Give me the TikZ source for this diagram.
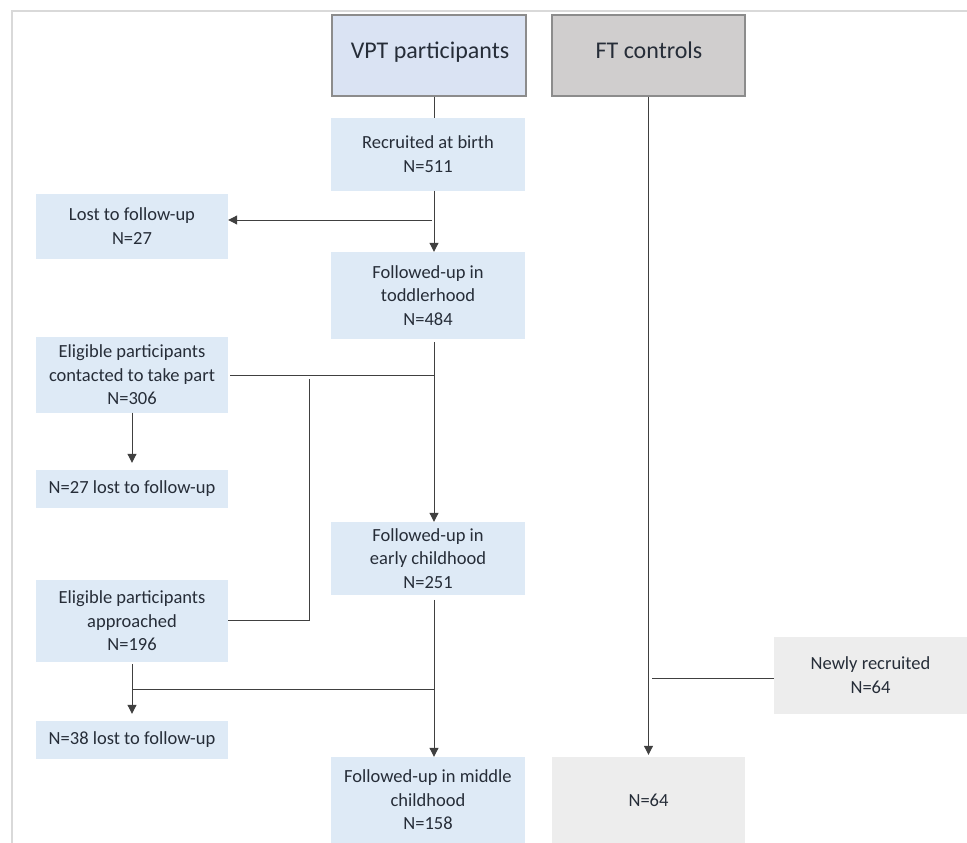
\documentclass[tikz,border=0pt]{standalone}
\usepackage{fontspec}
\setmainfont{Carlito}
\usetikzlibrary{arrows.meta}
\definecolor{txt}{RGB}{38,45,56}
\definecolor{blueb}{RGB}{222,234,246}
\definecolor{bluehd}{RGB}{218,227,243}
\definecolor{grayhd}{RGB}{208,206,206}
\definecolor{grayb}{RGB}{237,237,237}
\definecolor{hdline}{RGB}{140,140,140}
\definecolor{conn}{RGB}{64,64,64}
\definecolor{frame}{RGB}{217,217,217}
\tikzset{
  base/.style={rectangle, inner sep=0pt, align=center, text=txt,
    font=\fontsize{18.5}{23.5}\selectfont},
  bbox/.style={base, fill=blueb},
  gbox/.style={base, fill=grayb},
  hdbox/.style={rectangle, inner sep=0pt, align=center, text=txt, draw=hdline, line width=1.5pt,
    font=\fontsize{24}{28}\selectfont},
  conline/.style={draw=conn, line width=1pt},
  arr/.style={conline, -{Triangle[width=9pt,length=9pt]}},
}
\begin{document}
\begin{tikzpicture}[x=1pt,y=-1pt]
\useasboundingbox (0,0) rectangle (967,843);
\fill[white] (0,0) rectangle (967,843);
% frame
\draw[frame, line width=2pt] (967,11) -- (12,11) -- (12,843);
% headers
\node[hdbox, fill=bluehd, minimum width=194pt, minimum height=81pt] (vpt) at (429,55.5) {};
\node[text=txt, font=\fontsize{24}{28}\selectfont, anchor=base] (vptt) at (430,59) {VPT participants};
\node[hdbox, fill=grayhd, minimum width=193pt, minimum height=81pt] (ft) at (648.5,55.5) {};
\node[text=txt, font=\fontsize{24}{28}\selectfont, anchor=base] (ftt) at (649,59) {FT controls};
% VPT column
\node[bbox, minimum width=194pt, minimum height=72.5pt] (rec) at (428,154.25) {Recruited at birth\\N=511};
\node[bbox, minimum width=194pt, minimum height=87pt] (tod) at (428,295.5) {Followed-up in\\toddlerhood\\N=484};
\node[bbox, minimum width=194pt, minimum height=72.7pt] (early) at (428,558.35) {Followed-up in\\early childhood\\N=251};
\node[bbox, minimum width=194pt, minimum height=86pt] (mid) at (428,800) {Followed-up in middle\\childhood\\N=158};
% left column
\node[bbox, minimum width=192pt, minimum height=64.5pt] (lost1) at (132,226.25) {Lost to follow-up\\N=27};
\node[bbox, minimum width=192pt, minimum height=75.5pt] (cont) at (132,374.75) {Eligible participants\\contacted to take part\\N=306};
\node[bbox, minimum width=192pt, minimum height=37.7pt] (lost27) at (132,488.85) {N=27 lost to follow-up};
\node[bbox, minimum width=192pt, minimum height=81.7pt] (appr) at (132,620.85) {Eligible participants\\approached\\N=196};
\node[bbox, minimum width=192pt, minimum height=37.7pt] (lost38) at (132,739.85) {N=38 lost to follow-up};
% FT column
\node[gbox, minimum width=193pt, minimum height=76.7pt] (newr) at (870.5,675.35) {Newly recruited\\N=64};
\node[gbox, minimum width=193pt, minimum height=86pt] (ftn) at (648.5,800) {N=64};
% connector helpers
\coordinate (vx) at (434,0);
\coordinate (j1) at (432,220);
\coordinate (j2) at (434,375);
\coordinate (j3) at (309,379);
\coordinate (j4) at (434,689);
\coordinate (j5) at (652,678.7);
% connectors
\draw[conline] (vpt.south -| vx) -- (rec.north -| vx);
\draw[arr] (rec.south -| vx) -- (tod.north -| vx);
\draw[arr] (j1) -- (j1 -| lost1.east);
\draw[arr] ([yshift=-3pt]tod.south -| vx) -- (early.north -| vx);
\draw[conline] (j2) -- ([xshift=2pt]j2 -| cont.east);
\draw[conline] (j3) |- (appr.east);
\draw[arr] (cont.south) -- ([yshift=7pt]lost27.north);
\draw[arr] ([yshift=-5pt]early.south -| vx) -- (mid.north -| vx);
\draw[conline] (j4) -- (j4 -| appr.south);
\draw[arr] ([yshift=-2pt]appr.south) -- ([yshift=7pt]lost38.north);
\draw[arr] (ft.south) -- ([yshift=2pt]ftn.north);
\draw[conline] (j5) -- (j5 -| newr.west);
\end{tikzpicture}
\end{document}
